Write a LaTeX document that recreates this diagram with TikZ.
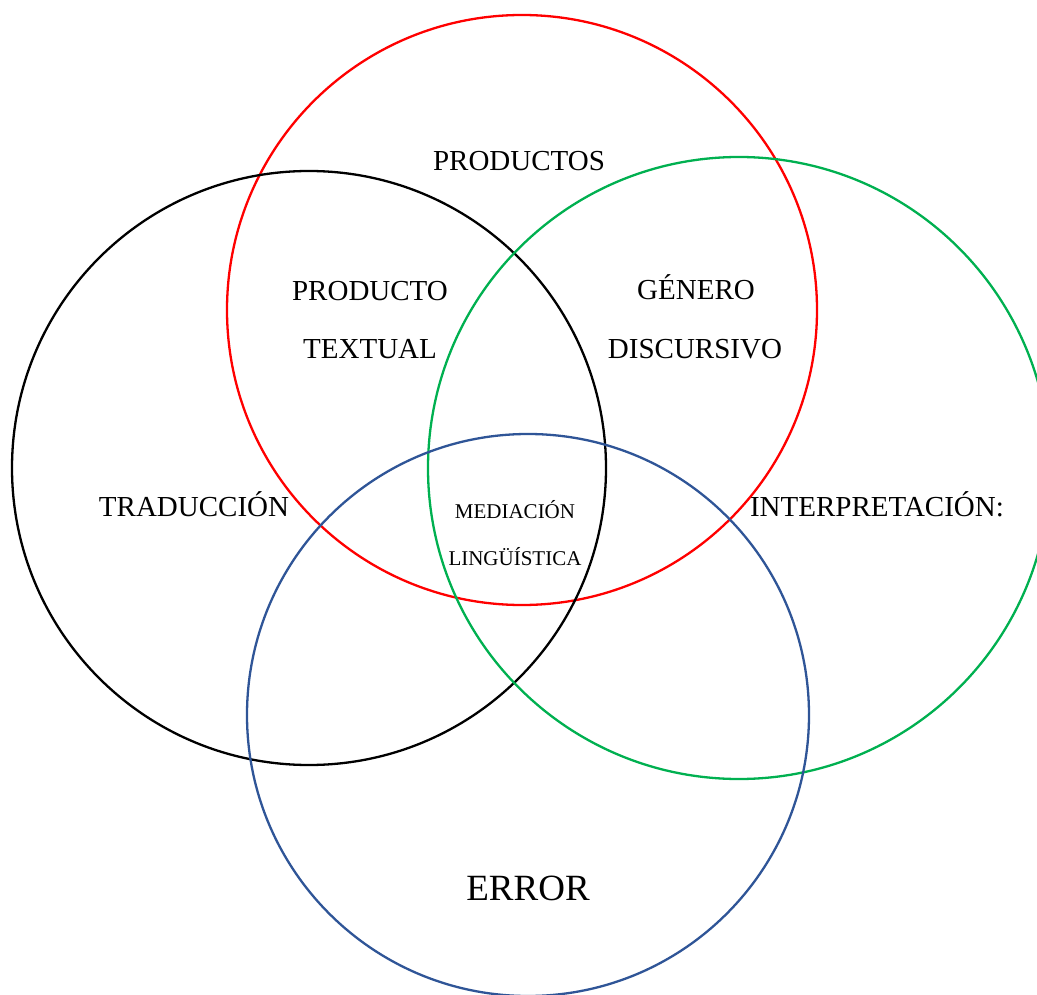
\documentclass[tikz,border=0pt]{standalone}
\usepackage{fontspec}
\setmainfont{Liberation Serif}
\usepackage{tikz}
\usepackage{xcolor}
\definecolor{cRed}{RGB}{255,0,0}
\definecolor{cGreen}{RGB}{0,176,80}
\definecolor{cBlue}{RGB}{47,85,151}

\begin{document}
\begin{tikzpicture}[
    x=1pt, y=-1pt,
    ring/.style={line width=2.3pt},
    label/.style={anchor=base,inner sep=0pt,font=\fontsize{29}{34}\selectfont},
    small/.style={anchor=base,inner sep=0pt,font=\fontsize{21}{25}\selectfont},
    big/.style={anchor=base,inner sep=0pt,font=\fontsize{37}{44}\selectfont}
  ]
  \useasboundingbox (0,0) rectangle (1037,995);
  % Circles
  \draw[ring,cRed]   (522,310) circle[radius=295];
  \draw[ring,black]  (309,468) circle[radius=297];
  \draw[ring,cGreen] (739,468) circle[radius=311];
  \draw[ring,cBlue]  (528,715) circle[radius=281];
  % Labels
  \node[label] (productos) at (519,171) {PRODUCTOS};
  \node[label] (producto)  at (370,301) {PRODUCTO};
  \node[label] (textual)   at (370,359) {TEXTUAL};
  \node[label] (genero)    at (696,300) {GÉNERO};
  \node[label] (discurso)  at (695,358) {DISCURSIVO};
  \node[label] (traduc)    at (194,516) {TRADUCCIÓN};
  \node[label] (interp)    at (877,516) {INTERPRETACIÓN:};
  \node[small] (mediac)    at (515,518) {MEDIACIÓN};
  \node[small] (lingu)     at (515,565) {LINGÜÍSTICA};
  \node[big]   (error)     at (528,900) {ERROR};
\end{tikzpicture}
\end{document}
